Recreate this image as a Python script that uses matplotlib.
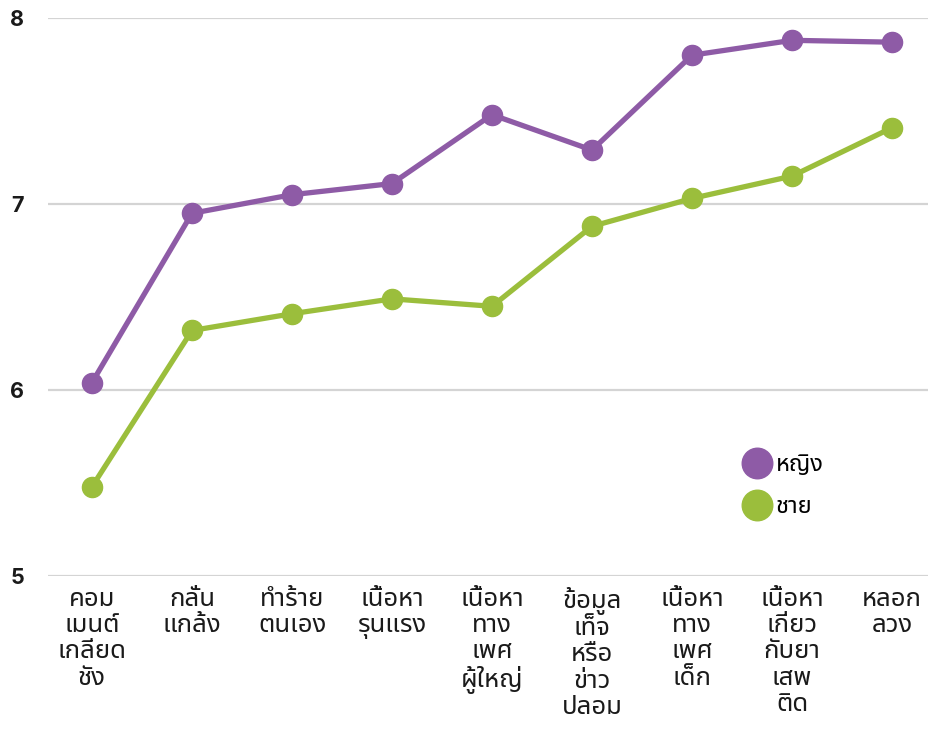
import matplotlib
matplotlib.use("Agg")
import matplotlib.pyplot as plt
from matplotlib.lines import Line2D

PURPLE = "#8E5BA6"
GREEN = "#9BBE3C"
GRID = "#d4d4d4"
INK = "#1a1a1a"
THAI = ["Noto Sans Thai", "DejaVu Sans"]

categories = [
    "คอม\nเมนต์\nเกลียด\nชัง",
    "กลั่น\nแกล้ง",
    "ทำร้าย\nตนเอง",
    "เนื้อหา\nรุนแรง",
    "เนื้อหา\nทาง\nเพศ\nผู้ใหญ่",
    "ข้อมูล\nเท็จ\nหรือ\nข่าว\nปลอม",
    "เนื้อหา\nทาง\nเพศ\nเด็ก",
    "เนื้อหา\nเกี่ยว\nกับยา\nเสพ\nติด",
    "หลอก\nลวง",
]
women = [6.04, 6.95, 7.05, 7.11, 7.48, 7.29, 7.80, 7.88, 7.87]
men = [5.48, 6.32, 6.41, 6.49, 6.45, 6.88, 7.03, 7.15, 7.41]
yticks = [5, 6, 7, 8]

plt.rcParams["font.family"] = THAI
fig = plt.figure(figsize=(9.29, 7.33), dpi=100)
ax = fig.add_axes([48 / 929, 1 - 576 / 733, 1 - 48 / 929, (576 - 18) / 733])

x = list(range(len(categories)))
ax.plot(x, women, color=PURPLE, lw=3.8, marker="o", ms=14.5, zorder=3)
ax.plot(x, men, color=GREEN, lw=3.8, marker="o", ms=14.5, zorder=3)

ax.set_xlim(-0.44, 8.37)
ax.set_ylim(5, 8)
ax.set_yticks(yticks)
ax.set_yticklabels([str(v) for v in yticks], fontsize=15.5, fontweight="bold",
                   color=INK, family=["Inter", "DejaVu Sans"])
ax.yaxis.grid(True, color=GRID, lw=1.6)
ax.set_axisbelow(True)
ax.tick_params(axis="y", length=0, pad=22)
ax.tick_params(axis="x", length=0, pad=8)
for s in ax.spines.values():
    s.set_visible(False)
for lab in ax.get_yticklabels():
    lab.set_horizontalalignment("center")

ax.set_xticks(x)
ax.set_xticklabels(categories, fontsize=18.5, color=INK, linespacing=1.06,
                   multialignment="center")

handles = [
    Line2D([], [], ls="none", marker="o", ms=22, color=PURPLE),
    Line2D([], [], ls="none", marker="o", ms=22, color=GREEN),
]
ax.legend(handles, ["หญิง", "ชาย"], loc="center left", frameon=False,
          bbox_to_anchor=(730 / 929, 1 - 486 / 733), bbox_transform=fig.transFigure,
          fontsize=17, handletextpad=0.15, labelspacing=0.78, borderpad=0,
          handlelength=1.3)

fig.savefig("out.png", dpi=100)
